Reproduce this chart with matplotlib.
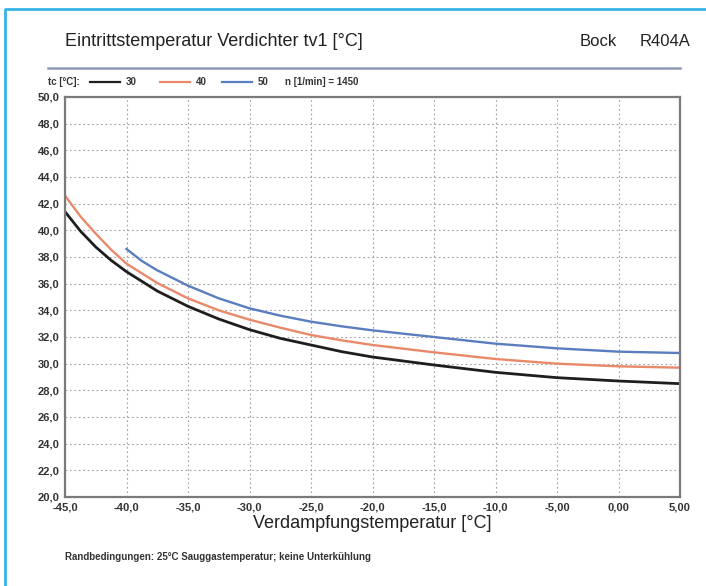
import matplotlib
matplotlib.use('Agg')
import matplotlib.pyplot as plt
from matplotlib.lines import Line2D

plt.rcParams['font.family'] = ['Liberation Sans', 'DejaVu Sans']

# Evaporating temperature [°C]
t0 = [-45.0, -43.75, -42.5, -41.25, -40.0, -37.5, -35.0, -32.5, -30.0, -27.5,
      -25.0, -22.5, -20.0, -15.0, -10.0, -5.0, 0.0, 5.0]
# Inlet temperature tv1 for condensing temperatures tc = 30 / 40 / 50 °C
tv1_30 = [41.4, 39.95, 38.75, 37.75, 36.9, 35.45, 34.3, 33.35, 32.55, 31.9,
          31.4, 30.9, 30.5, 29.9, 29.35, 28.95, 28.7, 28.5]
tv1_40 = [42.6, 41.05, 39.75, 38.55, 37.5, 36.05, 34.9, 34.0, 33.3, 32.7,
          32.15, 31.75, 31.4, 30.85, 30.35, 30.0, 29.8, 29.7]
t0_50 = [-40.0, -38.75, -37.5, -35.0, -32.5, -30.0, -27.5, -25.0, -22.5,
         -20.0, -15.0, -10.0, -5.0, 0.0, 5.0]
tv1_50 = [38.6, 37.7, 37.0, 35.85, 34.9, 34.15, 33.6, 33.15, 32.8,
          32.5, 32.0, 31.5, 31.15, 30.9, 30.8]

xticks = [-45, -40, -35, -30, -25, -20, -15, -10, -5, 0, 5]
xticklabels = ['-45,0', '-40,0', '-35,0', '-30,0', '-25,0', '-20,0', '-15,0',
               '-10,0', '-5,00', '0,00', '5,00']
yticks = list(range(20, 51, 2))
yticklabels = ['%d,0' % v for v in yticks]

c30, c40, c50 = '#1e1e1e', '#e8896a', '#5a7dbf'

W, H = 706, 586
fig = plt.figure(figsize=(W / 100, H / 100), dpi=100)
fig.patch.set_facecolor('white')

# light blue frame (left and top edge)
fig.add_artist(Line2D([5 / W, 5 / W, 1.0], [0.0, 1 - 9 / H, 1 - 9 / H],
                      transform=fig.transFigure, color='#38b3e8', lw=2))

ax = fig.add_axes([65 / W, (H - 497) / H, 615 / W, 400 / H])
ax.plot(t0, tv1_30, color=c30, lw=2.0)
ax.plot(t0, tv1_40, color=c40, lw=1.7)
ax.plot(t0_50, tv1_50, color=c50, lw=1.7)

ax.set_xlim(-45, 5)
ax.set_ylim(20, 50)
ax.set_xticks(xticks)
ax.set_xticklabels(xticklabels, fontsize=8, fontweight='bold', color='#333333')
ax.set_yticks(yticks)
ax.set_yticklabels(yticklabels, fontsize=8, fontweight='bold', color='#333333')
ax.tick_params(length=0, pad=4)
ax.grid(True, color='#a0a0a0', linestyle=(0, (1.5, 2.5)), lw=0.8)
for s in ax.spines.values():
    s.set_color('#7a7a7a')
    s.set_linewidth(1.6)

ax.set_xlabel('Verdampfungstemperatur [°C]', fontsize=13, color='#222222', labelpad=2)

# header
fig.text(65 / W, 1 - 42 / H, 'Eintrittstemperatur Verdichter tv1 [°C]',
         fontsize=13, color='#222222', va='center')
fig.text(580 / W, 1 - 42 / H, 'Bock', fontsize=12, color='#222222', va='center')
fig.text(640 / W, 1 - 42 / H, 'R404A', fontsize=12, color='#222222', va='center')
fig.add_artist(Line2D([48 / W, 680 / W], [1 - 68 / H, 1 - 68 / H],
                      transform=fig.transFigure, color='#8d9ab3', lw=1.8))

# legend row
ly = 1 - 82 / H
fig.text(48 / W, ly, 'tc [°C]:', fontsize=7, fontweight='bold', color='#333333', va='center')
for x0, col, lab in [(90, c30, '30'), (160, c40, '40'), (222, c50, '50')]:
    fig.add_artist(Line2D([x0 / W, (x0 + 30) / W], [ly, ly],
                          transform=fig.transFigure, color=col, lw=1.6))
    fig.text((x0 + 36) / W, ly, lab, fontsize=7, fontweight='bold', color='#333333', va='center')
fig.text(285 / W, ly, 'n [1/min] = 1450', fontsize=7, fontweight='bold', color='#333333', va='center')

# footer
fig.text(65 / W, 1 - 557 / H, 'Randbedingungen: 25°C Sauggastemperatur; keine Unterkühlung',
         fontsize=7, fontweight='bold', color='#333333', va='center')

fig.savefig('out.png', dpi=100)
